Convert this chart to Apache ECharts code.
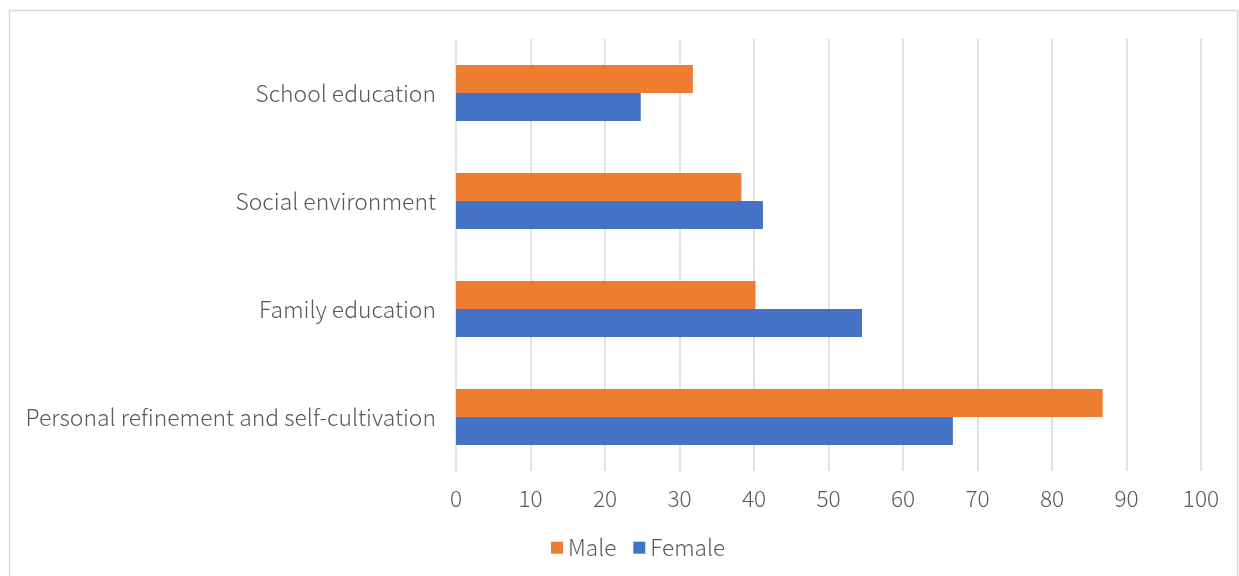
<!DOCTYPE html>
<html><head><meta charset="utf-8">
<script src="https://cdn.jsdelivr.net/npm/echarts@6/dist/echarts.min.js"></script>
<style>html,body{margin:0;padding:0;background:#fff}#c{width:1239px;height:576px}</style>
</head><body><div id="c"></div>
<script>
const categories = ['Personal refinement and self-cultivation', 'Family education', 'Social environment', 'School education'];
const maleValues = [86.8, 40.2, 38.3, 31.8];
const femaleValues = [66.7, 54.5, 41.2, 24.8];
const xTicks = [0, 10, 20, 30, 40, 50, 60, 70, 80, 90, 100];

const font = '"Noto Sans CJK SC", sans-serif';
const chart = echarts.init(document.getElementById('c'), null, {renderer: 'canvas'});
chart.setOption({
  animation: false,
  graphic: [{type: 'rect', shape: {x: 9.5, y: 10.5, width: 1228, height: 580}, style: {fill: 'none', stroke: '#d9d9d9', lineWidth: 1.5}, silent: true}],
  grid: {left: 456, right: 38, top: 39, bottom: 105, containLabel: false},
  legend: {
    data: ['Male', 'Female'], bottom: 12, left: 546, itemWidth: 12, itemHeight: 12, itemGap: 17,
    icon: 'rect', textStyle: {fontFamily: font, fontSize: 22.6, fontWeight: 300, color: '#595959'}
  },
  xAxis: {
    type: 'value', min: xTicks[0], max: xTicks[xTicks.length - 1], interval: 10,
    axisLine: {show: false}, axisTick: {show: false},
    axisLabel: {fontFamily: font, fontSize: 22.6, fontWeight: 300, color: '#595959', margin: 16},
    splitLine: {show: true, lineStyle: {color: '#d9d9d9', width: 1.5}}
  },
  yAxis: {
    type: 'category', data: categories,
    axisLine: {show: false}, axisTick: {show: false},
    axisLabel: {fontFamily: font, fontSize: 22.9, fontWeight: 300, color: '#595959', margin: 20}
  },
  series: [
    {name: 'Male', type: 'bar', data: maleValues, itemStyle: {color: '#ed7d31'}, barGap: '0%', barCategoryGap: '48%'},
    {name: 'Female', type: 'bar', data: femaleValues, itemStyle: {color: '#4472c4'}, barGap: '0%', barCategoryGap: '48%'}
  ]
});
</script></body></html>
